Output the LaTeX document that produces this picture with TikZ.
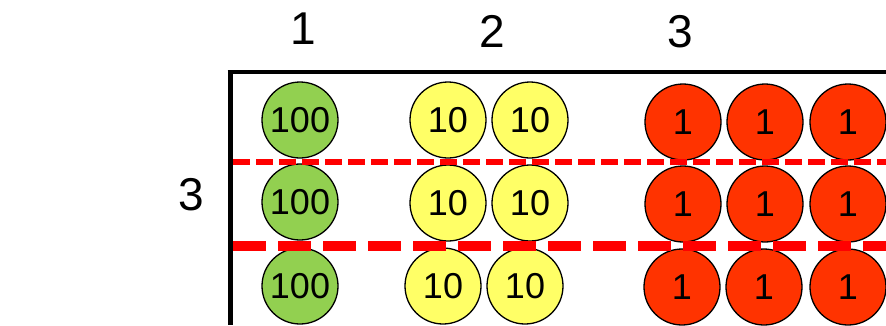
\documentclass[tikz,border=0pt]{standalone}
\usepackage{fontspec}
\setmainfont{Liberation Sans}
\definecolor{cgreen}{HTML}{92D050}
\definecolor{cyellow}{HTML}{FFFF66}
\definecolor{cred}{HTML}{FF3300}
\definecolor{dred}{HTML}{FF0000}
\begin{document}
\begin{tikzpicture}[x=1pt,y=-1pt,
  coin/.style={circle,draw=black,line width=1.3pt,minimum size=76pt,inner sep=0pt,
    font=\fontsize{36}{36}\selectfont},
  hund/.style={coin,fill=cgreen},
  ten/.style={coin,fill=cyellow},
  one/.style={coin,fill=cred},
  lab/.style={inner sep=0pt,font=\fontsize{46}{46}\selectfont},
  thinsep/.style={draw=dred,line width=6pt,dash pattern=on 17pt off 6pt},
  thicksep/.style={draw=dred,line width=10pt,dash pattern=on 33pt off 12pt}]
\useasboundingbox (0,0) rectangle (886,325);
\clip (0,0) rectangle (886,325);
% labels
\node[lab] (l1) at (303,29) {1};
\node[lab] (l2) at (492,31) {2};
\node[lab] (l3) at (680,32) {3};
\node[lab] (lr) at (191,195) {3};
% frame
\coordinate (tl) at (230,72);
\coordinate (tr) at (886,72);
\coordinate (bl) at (230,325);
\draw[line width=4pt] ([xshift=-2.5pt]tl) -- (tr);
\draw[line width=5pt] ([yshift=-2pt]tl) -- (bl);
% row 1
\node[hund] (h1) at (300,120) {100};
\node[ten] (t11) at (448,120) {10};
\node[ten] (t12) at (530,120) {10};
\node[one] (o11) at (683,122) {1};
\node[one] (o12) at (765,122) {1};
\node[one] (o13) at (848,122) {1};
% row 2
\node[hund] (h2) at (300,202) {100};
\node[ten] (t21) at (448,203) {10};
\node[ten] (t22) at (530,203) {10};
\node[one] (o21) at (683,204) {1};
\node[one] (o22) at (765,204) {1};
\node[one] (o23) at (848,204) {1};
% row 3
\node[hund] (h3) at (300,286) {100};
\node[ten] (t31) at (443,286) {10};
\node[ten] (t32) at (525,286) {10};
\node[one] (o31) at (682,287) {1};
\node[one] (o32) at (764,287) {1};
\node[one] (o33) at (848,287) {1};
% separators
\coordinate (s1a) at (233,162);
\coordinate (s1b) at (886,162);
\coordinate (s2a) at (233,246);
\coordinate (s2b) at (886,246);
\draw[thinsep] (s1a) -- (s1b);
\draw[thicksep] (s2a) -- (s2b);
\end{tikzpicture}
\end{document}
